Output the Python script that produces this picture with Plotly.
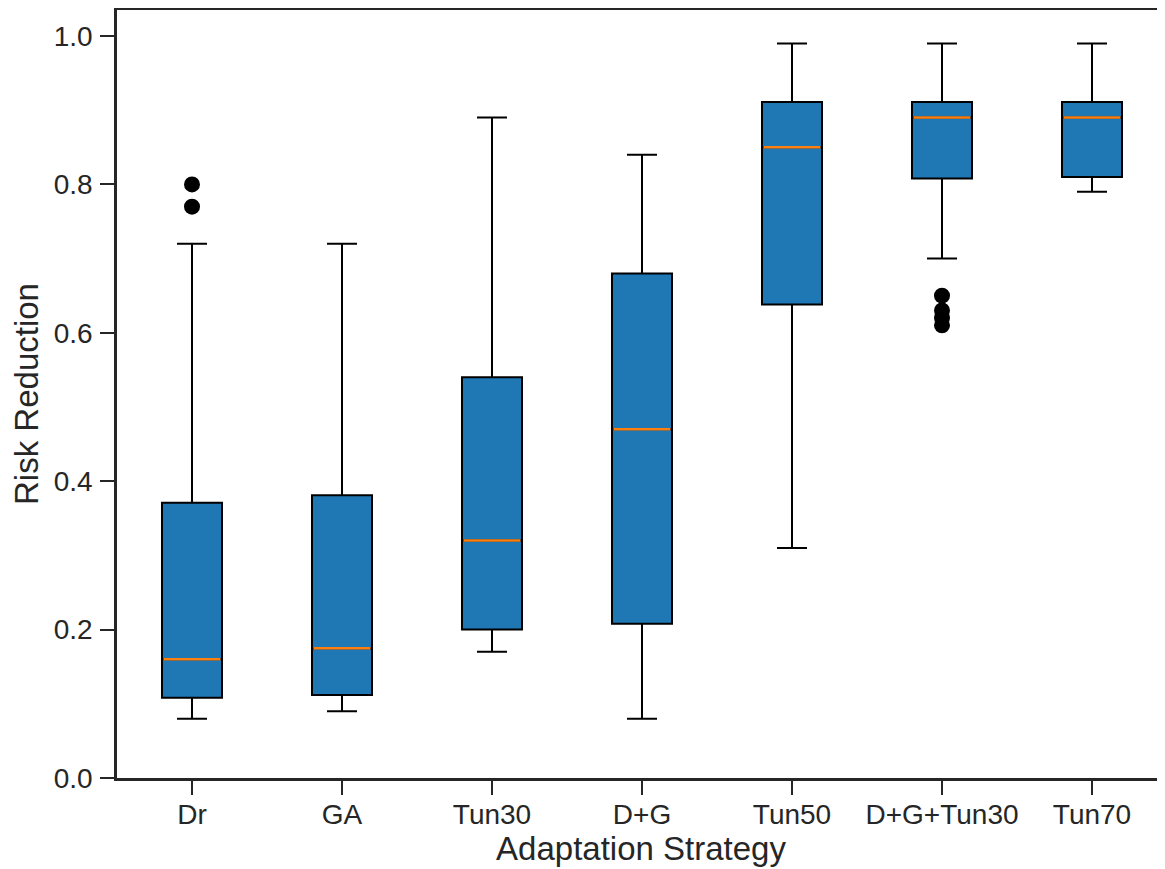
import plotly.graph_objects as go

categories = ["Dr", "GA", "Tun30", "D+G", "Tun50", "D+G+Tun30", "Tun70"]
lower_whisker = [0.08, 0.09, 0.17, 0.08, 0.31, 0.70, 0.79]
q1_values = [0.108, 0.112, 0.20, 0.208, 0.638, 0.808, 0.81]
medians = [0.16, 0.175, 0.32, 0.47, 0.85, 0.89, 0.89]
q3_values = [0.371, 0.381, 0.54, 0.68, 0.911, 0.911, 0.911]
upper_whisker = [0.72, 0.72, 0.89, 0.84, 0.99, 0.99, 0.99]
outlier_groups = {
    "Dr": [0.80, 0.77],
    "D+G+Tun30": [0.65, 0.63, 0.62, 0.61],
}

positions = list(range(1, len(categories) + 1))
box_w = 0.4
text_col = "#262626"

fig = go.Figure()
fig.add_trace(go.Box(
    x=positions,
    q1=q1_values, median=medians, q3=q3_values,
    lowerfence=lower_whisker, upperfence=upper_whisker,
    width=box_w, whiskerwidth=0.5,
    fillcolor="#1f77b4",
    line=dict(color="black", width=2),
    boxpoints=False, showlegend=False, hoverinfo="skip",
))

# orange median lines
mx, my = [], []
for p, m in zip(positions, medians):
    mx += [p - box_w / 2 + 0.01, p + box_w / 2 - 0.01, None]
    my += [m, m, None]
fig.add_trace(go.Scatter(x=mx, y=my, mode="lines",
                         line=dict(color="#ff7f0e", width=2.5),
                         showlegend=False, hoverinfo="skip"))

# outliers
ox, oy = [], []
for cat, vals in outlier_groups.items():
    p = positions[categories.index(cat)]
    ox += [p] * len(vals)
    oy += vals
fig.add_trace(go.Scatter(x=ox, y=oy, mode="markers",
                         marker=dict(color="black", size=16),
                         showlegend=False, hoverinfo="skip"))

font_family = "Liberation Sans, Arial, sans-serif"
fig.update_layout(
    width=1157, height=861,
    margin=dict(l=109, r=0, t=2, b=91),
    plot_bgcolor="white", paper_bgcolor="white",
    font=dict(family=font_family, color=text_col),
    xaxis=dict(
        range=[0.5, 0.5 + 1048 / 150],
        tickvals=positions, ticktext=categories,
        showgrid=False, zeroline=False,
        showline=True, linecolor=text_col, linewidth=2.5, mirror=True,
        ticks="outside", ticklen=14, tickwidth=2, tickcolor=text_col,
        tickfont=dict(size=28, color=text_col), ticklabelstandoff=-4,
        title=dict(text="Adaptation Strategy", font=dict(size=33, color=text_col), standoff=4),
    ),
    yaxis=dict(
        range=[0, 1.035],
        tickvals=[0, 0.2, 0.4, 0.6, 0.8, 1.0],
        ticktext=["0.0", "0.2", "0.4", "0.6", "0.8", "1.0"],
        showgrid=False, zeroline=False,
        showline=True, linecolor=text_col, linewidth=2.5, mirror=False,
        ticks="outside", ticklen=14, tickwidth=2, tickcolor=text_col,
        tickfont=dict(size=28, color=text_col), ticklabelstandoff=2,
        title=dict(text="Risk Reduction", font=dict(size=33, color=text_col), standoff=6),
    ),
)

fig.write_html("out.html")
